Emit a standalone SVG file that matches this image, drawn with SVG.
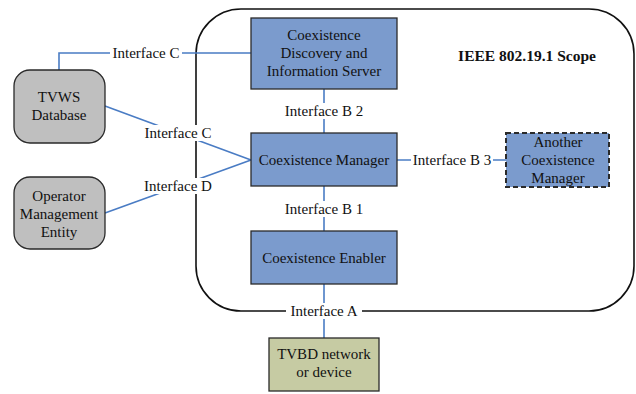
<svg xmlns="http://www.w3.org/2000/svg" width="636" height="394" viewBox="0 0 636 394">
  <style>
    text { font-family: "Liberation Serif", "Times New Roman", serif; font-size: 15px; fill: #111; text-anchor: middle; }
    .blue { fill: #7b9bcd; stroke: #2a2a2a; stroke-width: 1.3; }
    .ext { fill: #bfbfbf; stroke: #2a2a2a; stroke-width: 1.3; }
    .dev { fill: #c6cba3; stroke: #2a2a2a; stroke-width: 1.3; }
    .dash { stroke-dasharray: 5 3; stroke-width: 2; }
    .link { fill: none; stroke: #4a7cc4; stroke-width: 1.6; }
    .lbl { fill: #fff; stroke: none; }
  </style>

  <!-- scope boundary -->
  <g id="scope">
    <rect x="196" y="9" width="438" height="302" rx="45" ry="45" fill="none" stroke="#111" stroke-width="1.6"/>
    <text x="527" y="61" style="font-weight:bold;font-size:15.5px">IEEE 802.19.1 Scope</text>
  </g>

  <!-- connectors and their labels -->
  <g id="connectors">
    <polyline class="link" points="59,70 59,53 251,53"/>
    <line class="link" x1="105" y1="106" x2="251" y2="160"/>
    <line class="link" x1="105" y1="213" x2="251" y2="160"/>
    <line class="link" x1="324" y1="89" x2="324" y2="133"/>
    <line class="link" x1="324" y1="186" x2="324" y2="231"/>
    <line class="link" x1="397" y1="160" x2="506" y2="160"/>
    <line class="link" x1="324" y1="284" x2="324" y2="338"/>

    <rect class="lbl" x="110" y="45" width="72" height="16"/>
    <text x="146" y="58">Interface C</text>
    <rect class="lbl" x="142" y="125" width="72" height="16"/>
    <text x="178" y="138">Interface C</text>
    <rect class="lbl" x="142" y="178" width="72" height="16"/>
    <text x="178" y="191">Interface D</text>
    <rect class="lbl" x="282" y="103" width="84" height="16"/>
    <text x="324" y="116">Interface B 2</text>
    <rect class="lbl" x="282" y="201" width="84" height="16"/>
    <text x="324" y="214">Interface B 1</text>
    <rect class="lbl" x="411" y="152" width="82" height="16"/>
    <text x="452" y="165">Interface B 3</text>
    <rect class="lbl" x="286" y="303" width="76" height="16"/>
    <text x="324" y="316">Interface A</text>
  </g>

  <g id="cdis">
    <rect class="blue" x="251" y="18" width="146" height="71"/>
    <text x="324" y="40">Coexistence</text>
    <text x="324" y="58">Discovery and</text>
    <text x="324" y="76">Information Server</text>
  </g>

  <g id="cm">
    <rect class="blue" x="251" y="133" width="146" height="53"/>
    <text x="324" y="165">Coexistence Manager</text>
  </g>

  <g id="ce">
    <rect class="blue" x="251" y="231" width="146" height="53"/>
    <text x="324" y="263">Coexistence Enabler</text>
  </g>

  <g id="another-cm">
    <rect class="blue dash" x="506" y="133" width="103" height="54"/>
    <text x="558" y="147">Another</text>
    <text x="558" y="165">Coexistence</text>
    <text x="558" y="183">Manager</text>
  </g>

  <g id="tvws-db">
    <rect class="ext" x="14" y="70" width="91" height="73" rx="16" ry="16"/>
    <text x="59" y="102">TVWS</text>
    <text x="59" y="120">Database</text>
  </g>

  <g id="operator">
    <rect class="ext" x="14" y="177" width="91" height="72" rx="16" ry="16"/>
    <text x="59" y="201">Operator</text>
    <text x="59" y="219">Management</text>
    <text x="59" y="237">Entity</text>
  </g>

  <g id="tvbd">
    <rect class="dev" x="269" y="338" width="110" height="53"/>
    <text x="324" y="359">TVBD network</text>
    <text x="324" y="377">or device</text>
  </g>
</svg>
